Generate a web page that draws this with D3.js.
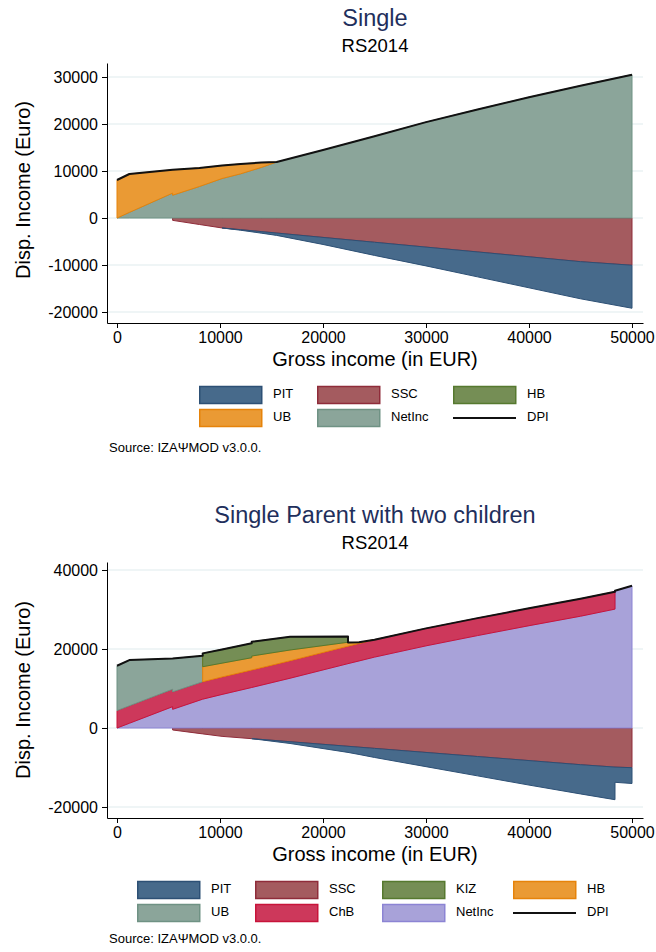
<!DOCTYPE html>
<html><head><meta charset="utf-8">
<script src="https://cdn.jsdelivr.net/npm/d3@7"></script>
<style>
body{margin:0;background:#fff}
text{font-family:"Liberation Sans",Arial,Helvetica,sans-serif}
</style>
</head><body>
<svg id="chart" width="656" height="952"></svg>
<script>
// ---------------- DATA ----------------
const xTicks = [0, 10000, 20000, 30000, 40000, 50000];

// Panel 1: Single, RS2014
const grossSingle = [0, 1200, 5399, 5400, 8000, 10200, 12000, 14000, 15500, 20000, 25000, 30000, 35000, 40000, 45000, 50000];
const pitSingle   = [0, 0, 0, 0, 0, 0, -120, -330, -500, -1500, -2800, -4000, -5300, -6600, -7900, -9150];
const sscSingle   = [0, 0, 0, -500, -1380, -2120, -2480, -2890, -3200, -4130, -5160, -6190, -7220, -8250, -9290, -10050];
const hbSingle    = [0, 0, 0, 0, 0, 0, 0, 0, 0, 0, 0, 0, 0, 0, 0, 0];
const ubSingle    = [8085, 8160, 4950, 5400, 3950, 2750, 2100, 1050, 0, 0, 0, 0, 0, 0, 0, 0];
const netSingle   = [0, 1200, 5300, 4850, 6700, 8400, 9400, 10750, 11900, 14450, 17400, 20400, 23100, 25700, 28150, 30500];
const yTicksSingle = [-20000, -10000, 0, 10000, 20000, 30000];

// Panel 2: Single Parent with two children, RS2014
const grossParent = [0, 1200, 5399, 5400, 8319, 8320, 10200, 13079, 13080, 16800, 22429, 22430, 23500, 25000, 30000, 35000, 40000, 45000, 48349, 48350, 50000];
const pitParent   = [0, 0, 0, 0, 0, 0, 0, 0, 0, -450, -1550, -1550, -1850, -2300, -3600, -4900, -6200, -7400, -8250, -3850, -4000];
const sscParent   = [0, 0, 0, -500, -1490, -1490, -2120, -2700, -2700, -3470, -4630, -4630, -4850, -5160, -6190, -7220, -8250, -9290, -9900, -9900, -10050];
const kizParent   = [0, 0, 0, 0, 0, 3380, 3480, 3640, 3620, 3350, 1450, 0, 0, 0, 0, 0, 0, 0, 0, 0, 0];
const hbParent    = [0, 0, 0, 0, 0, 3800, 3500, 3120, 3550, 2730, 1000, 900, 300, 0, 0, 0, 0, 0, 0, 0, 0];
const ubParent    = [11350, 11590, 7780, 8450, 6580, 0, 0, 0, 0, 0, 0, 0, 0, 0, 0, 0, 0, 0, 0, 0, 0];
const chbParent   = [4416, 4416, 4416, 4416, 4416, 4416, 4416, 4416, 4416, 4416, 4416, 4416, 4416, 4416, 4416, 4416, 4416, 4416, 4416, 0, 0];
const netParent   = [0, 1200, 5400, 4730, 7300, 7300, 8500, 10260, 10260, 12600, 16300, 16300, 16980, 17950, 20800, 23400, 25900, 28300, 30100, 34750, 36000];
const yTicksParent = [-20000, 0, 20000, 40000];

// ---------------- STYLES ----------------
const C = {
  PIT:    {fill: "#476a8b", stroke: "#2d5075"},
  SSC:    {fill: "#a45b5f", stroke: "#8f2c3a"},
  green:  {fill: "#758e55", stroke: "#56792f"},
  orange: {fill: "#ea9a34", stroke: "#e6830a"},
  grey:   {fill: "#8ba59a", stroke: "#6f9284"},
  ChB:    {fill: "#cd385b", stroke: "#c8143a"},
  purple: {fill: "#a8a2d9", stroke: "#8c84d4"}
};

const svg = d3.select("#chart");

// stack series in given order: negatives downward from 0, positives upward from 0
function stackSeries(gross, series) {
  const pos = gross.map(() => 0), neg = gross.map(() => 0);
  return series.map(s => {
    return gross.map((gv, i) => {
      const v = s.values[i];
      const base = s.positive ? pos : neg;
      const y0 = base[i], y1 = y0 + v;
      base[i] = y1;
      return {gross: gv, y0, y1};
    });
  });
}

function drawPanel(o) {
  const g = svg.append("g");
  const x = d3.scaleLinear().domain([-971, 51068]).range([107, 643]);
  const y = d3.scaleLinear().domain(o.yDomain).range(o.yRange);

  // grid
  g.append("g").selectAll("line").data(o.yTicks).join("line")
    .attr("x1", 107).attr("x2", 643)
    .attr("y1", d => y(d)).attr("y2", d => y(d))
    .attr("stroke", "#eaf2f3").attr("stroke-width", 1.5);

  const layers = stackSeries(o.gross, o.series);

  layers.forEach((layer, li) => {
    const s = o.series[li];
    const v = s.values, n = v.length;
    const def = (d, i) => v[i] !== 0 || (i > 0 && v[i - 1] !== 0) || (i < n - 1 && v[i + 1] !== 0);
    const area = d3.area()
      .defined(def)
      .x(d => x(d.gross))
      .y0(d => y(d.y0)).y1(d => y(d.y1));
    g.append("path").datum(layer)
      .attr("d", area)
      .attr("fill", s.style.fill)
      .attr("stroke", s.style.stroke)
      .attr("stroke-width", 1)
      .attr("stroke-linejoin", "round");
  });

  // DPI line = top of positive stack
  const posLayers = layers.filter((l, i) => o.series[i].positive);
  const top = posLayers[posLayers.length - 1];
  g.append("path").datum(top)
    .attr("d", d3.line().x(d => x(d.gross)).y(d => y(d.y1)))
    .attr("fill", "none").attr("stroke", "#111").attr("stroke-width", 2)
    .attr("stroke-linejoin", "round");

  // axes
  const ya = g.append("g").attr("transform", "translate(107,0)")
    .call(d3.axisLeft(y).tickValues(o.yTicks).tickSize(5).tickSizeOuter(0).tickPadding(4).tickFormat(d => String(d)));
  const xa = g.append("g").attr("transform", `translate(0,${o.yRange[0]})`)
    .call(d3.axisBottom(x).tickValues(xTicks).tickSize(5).tickSizeOuter(0).tickPadding(4).tickFormat(d => String(d)));
  [ya, xa].forEach(a => {
    a.selectAll("text").attr("font-size", 16).attr("fill", "#000")
      .attr("font-family", '"Liberation Sans",Arial,sans-serif');
    a.select(".domain").attr("stroke", "#000");
    a.selectAll(".tick line").attr("stroke", "#000");
  });

  // titles
  g.append("text").attr("x", 375).attr("y", o.titleY).attr("text-anchor", "middle")
    .attr("dominant-baseline", "middle").attr("font-size", 23.5).attr("fill", "#1f2f5c").text(o.title);
  g.append("text").attr("x", 375).attr("y", o.titleY + 27).attr("text-anchor", "middle")
    .attr("dominant-baseline", "middle").attr("font-size", 18.5).attr("fill", "#000").text("RS2014");
  g.append("text").attr("x", 375).attr("y", o.yRange[0] + 42.5).attr("text-anchor", "middle")
    .attr("font-size", 20).attr("fill", "#000").text("Gross income (in EUR)");
  g.append("text").attr("transform", `translate(25,${o.yTitleY}) rotate(-90)`).attr("text-anchor", "middle")
    .attr("dominant-baseline", "middle").attr("font-size", 20).attr("fill", "#000").text("Disp. Income (Euro)");

  // legend
  o.legend.forEach(item => {
    const lx = o.legCols[item.c], ly = o.legRows[item.r];
    if (item.line) {
      g.append("line").attr("x1", lx).attr("x2", lx + 63).attr("y1", ly).attr("y2", ly)
        .attr("stroke", "#111").attr("stroke-width", 2);
    } else {
      g.append("rect").attr("x", lx + 0.75).attr("y", ly - 8.5).attr("width", 62).attr("height", 17)
        .attr("fill", item.style.fill).attr("stroke", item.style.stroke).attr("stroke-width", 1.5);
    }
    g.append("text").attr("x", lx + 74).attr("y", ly).attr("dominant-baseline", "middle")
      .attr("font-size", 13).attr("fill", "#000").text(item.label);
  });
  g.append("text").attr("x", 109).attr("y", o.sourceY).attr("dominant-baseline", "middle")
    .attr("font-size", 13).attr("fill", "#000").text("Source: IZA\u03A8MOD v3.0.0.");
}

drawPanel({
  title: "Single", titleY: 20,
  gross: grossSingle,
  yDomain: [-22340, 32979], yRange: [323, 63], yTicks: yTicksSingle, yTitleY: 190,
  series: [
    {key: "SSC", values: sscSingle, style: C.SSC},
    {key: "PIT", values: pitSingle, style: C.PIT},
    {key: "NetInc", values: netSingle, style: C.grey, positive: true},
    {key: "UB", values: ubSingle, style: C.orange, positive: true},
    {key: "HB", values: hbSingle, style: C.green, positive: true}
  ],
  legCols: [199, 317, 453], legRows: [395, 418],
  legend: [
    {label: "PIT", c: 0, r: 0, style: C.PIT},
    {label: "SSC", c: 1, r: 0, style: C.SSC},
    {label: "HB", c: 2, r: 0, style: C.green},
    {label: "UB", c: 0, r: 1, style: C.orange},
    {label: "NetInc", c: 1, r: 1, style: C.grey},
    {label: "DPI", c: 2, r: 1, line: true}
  ],
  sourceY: 449
});

drawPanel({
  title: "Single Parent with two children", titleY: 517,
  gross: grossParent,
  yDomain: [-22785, 42025], yRange: [818, 562], yTicks: yTicksParent, yTitleY: 690,
  series: [
    {key: "SSC", values: sscParent, style: C.SSC},
    {key: "PIT", values: pitParent, style: C.PIT},
    {key: "NetInc", values: netParent, style: C.purple, positive: true},
    {key: "ChB", values: chbParent, style: C.ChB, positive: true},
    {key: "UB", values: ubParent, style: C.grey, positive: true},
    {key: "HB", values: hbParent, style: C.orange, positive: true},
    {key: "KIZ", values: kizParent, style: C.green, positive: true}
  ],
  legCols: [137, 255, 382, 513], legRows: [890, 913],
  legend: [
    {label: "PIT", c: 0, r: 0, style: C.PIT},
    {label: "SSC", c: 1, r: 0, style: C.SSC},
    {label: "KIZ", c: 2, r: 0, style: C.green},
    {label: "HB", c: 3, r: 0, style: C.orange},
    {label: "UB", c: 0, r: 1, style: C.grey},
    {label: "ChB", c: 1, r: 1, style: C.ChB},
    {label: "NetInc", c: 2, r: 1, style: C.purple},
    {label: "DPI", c: 3, r: 1, line: true}
  ],
  sourceY: 940
});
</script>
</body></html>
